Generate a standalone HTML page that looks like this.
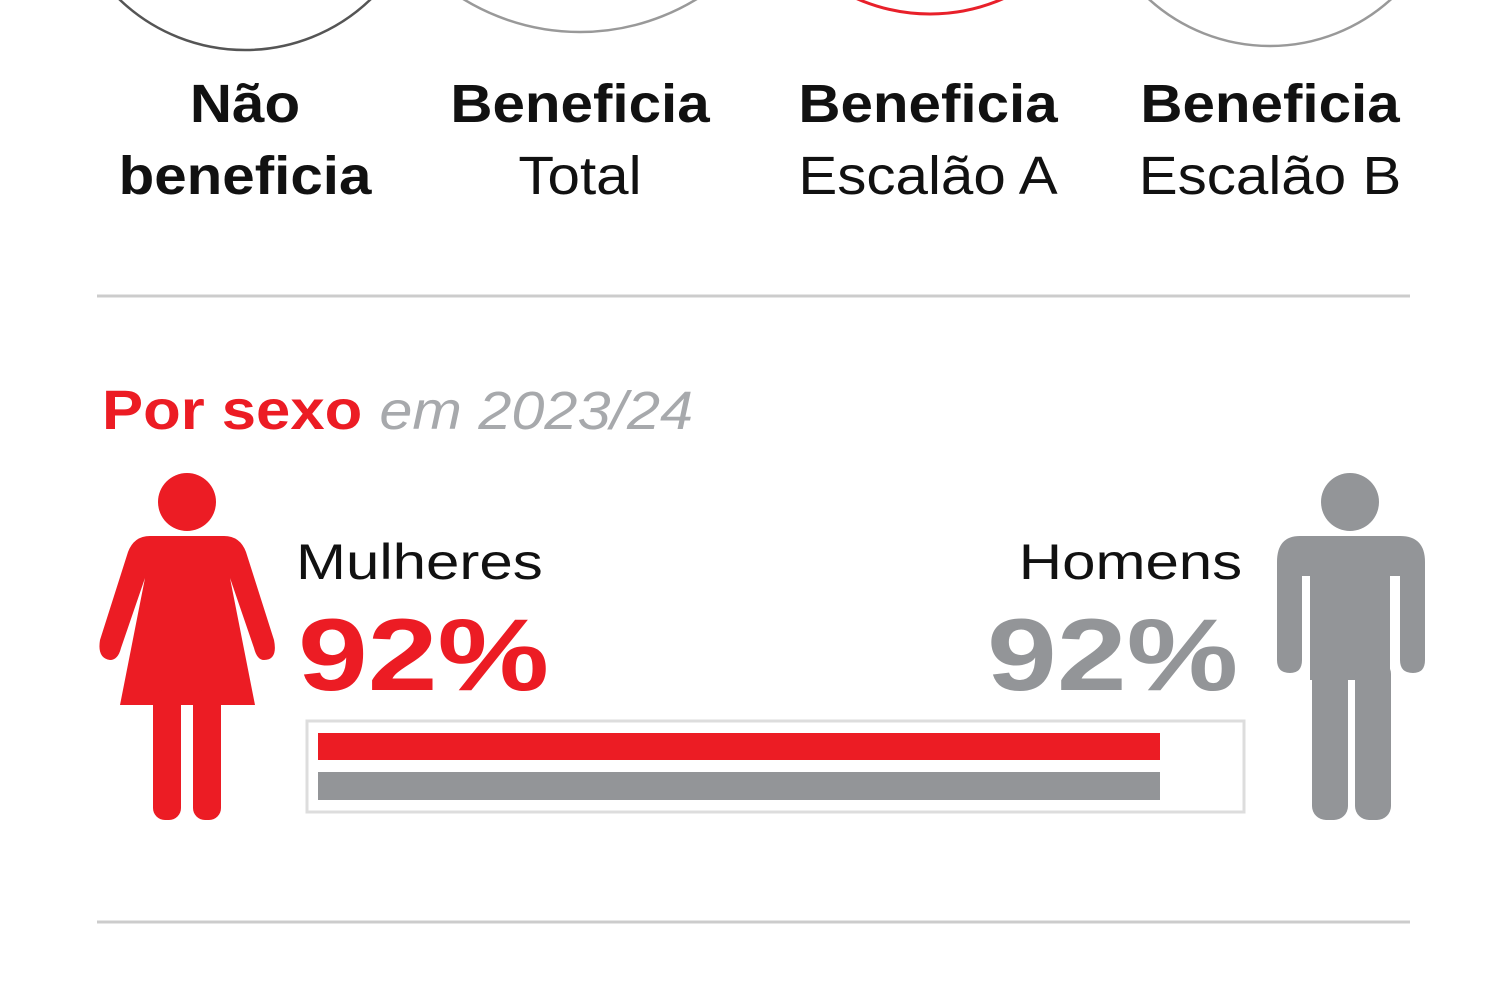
<!DOCTYPE html>
<html><head><meta charset="utf-8"><style>
html,body{margin:0;padding:0;background:#fff;}
body{width:1500px;height:1000px;position:relative;overflow:hidden;font-family:"Liberation Sans",sans-serif;}
.t{position:absolute;white-space:nowrap;}
.lab{font-size:54px;color:#111;text-align:center;line-height:72px;width:320px;transform:scaleX(1.08);}
</style></head><body>
<svg width="1500" height="1000" style="position:absolute;left:0;top:0">
<circle cx="245" cy="-131" r="181" fill="none" stroke="#555" stroke-width="2.5"/>
<circle cx="580" cy="-191" r="223" fill="none" stroke="#999" stroke-width="2.5"/>
<circle cx="930" cy="-168" r="182" fill="none" stroke="#e8202a" stroke-width="3"/>
<circle cx="1270" cy="-134" r="180" fill="none" stroke="#999" stroke-width="2.5"/>
<line x1="97" y1="296" x2="1410" y2="296" stroke="#ccc" stroke-width="3"/>
<line x1="97" y1="922" x2="1410" y2="922" stroke="#ccc" stroke-width="3"/>
<g fill="#ec1c24">
<circle cx="187" cy="502" r="29"/>
<path d="M150 536 L224 536 Q240 536 246 552 L274 640 Q278 660 264 660 Q257 660 254 648 L230 578 L255 705 L120 705 L145 578 L121 648 Q118 660 110 660 Q97 658 100 640 L128 552 Q134 536 150 536 Z"/>
<rect x="153" y="690" width="28" height="130" rx="12"/>
<rect x="193" y="690" width="28" height="130" rx="12"/>
</g>
<g fill="#939598">
<circle cx="1350" cy="502" r="29"/>
<path d="M1300 536 L1400 536 Q1425 536 1425 562 L1425 660 Q1425 673 1413 673 Q1400 673 1400 660 L1400 576 L1390 576 L1390 680 L1310 680 L1310 576 L1302 576 L1302 660 Q1302 673 1290 673 Q1277 673 1277 660 L1277 562 Q1277 536 1300 536 Z"/>
<rect x="1312" y="660" width="36" height="160" rx="14"/>
<rect x="1355" y="660" width="36" height="160" rx="14"/>
</g>
<rect x="307" y="721" width="937" height="91" fill="#fff" stroke="#ddd" stroke-width="3"/>
<rect x="318" y="733" width="842" height="27" fill="#ec1c24"/>
<rect x="318" y="772" width="842" height="28" fill="#939598"/>
</svg>
<div class="t lab" style="left:85px;top:68px;font-weight:bold">Não<br>beneficia</div>
<div class="t lab" style="left:420px;top:68px"><b>Beneficia</b><br>Total</div>
<div class="t lab" style="left:768px;top:68px"><b>Beneficia</b><br>Escalão A</div>
<div class="t lab" style="left:1110px;top:68px"><b>Beneficia</b><br>Escalão B</div>
<div class="t" style="left:102px;top:375px;font-size:56px;line-height:70px;transform:scaleX(1.1);transform-origin:left"><b style="color:#ec1c24">Por sexo</b> <i style="color:#a7a9ac;font-size:54px">em 2023/24</i></div>
<div class="t" style="left:296px;top:530px;font-size:50px;line-height:64px;color:#111;transform:scaleX(1.2);transform-origin:left">Mulheres</div>
<div class="t" style="left:298px;top:600px;font-size:102px;line-height:110px;font-weight:bold;color:#ec1c24;transform:scaleX(1.23);transform-origin:left">92%</div>
<div class="t" style="right:258px;top:530px;font-size:50px;line-height:64px;color:#111;transform:scaleX(1.2);transform-origin:right">Homens</div>
<div class="t" style="right:262px;top:600px;font-size:102px;line-height:110px;font-weight:bold;color:#939598;transform:scaleX(1.23);transform-origin:right">92%</div>
</body></html>
